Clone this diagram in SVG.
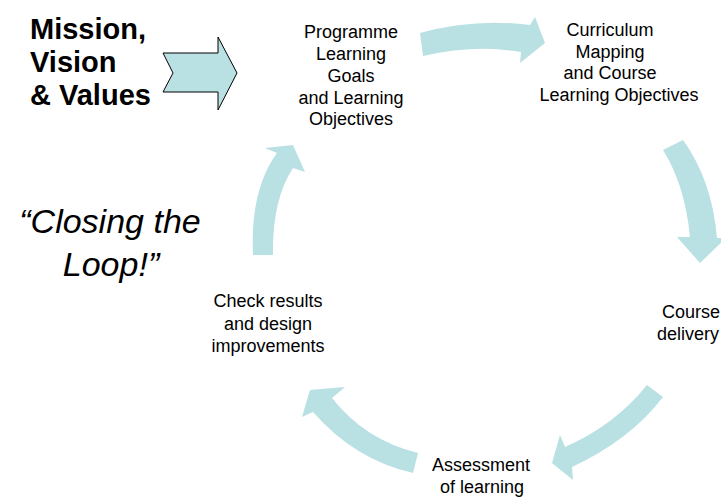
<svg xmlns="http://www.w3.org/2000/svg" width="721" height="497" viewBox="0 0 721 497">
<style>
.lbl{font-family:"Liberation Sans",Arial,sans-serif;font-size:18px;fill:#000;text-anchor:middle}
.arr{fill:#B9E0E3;stroke:none}
</style>
<rect width="721" height="497" fill="#fff"/>
<g id="mission">
<text font-family="Liberation Sans,Arial,sans-serif" font-weight="bold" font-size="29" x="30" y="39">Mission,</text>
<text font-family="Liberation Sans,Arial,sans-serif" font-weight="bold" font-size="29" x="30" y="72">Vision</text>
<text font-family="Liberation Sans,Arial,sans-serif" font-weight="bold" font-size="29" x="30" y="105">&amp; Values</text>
<path d="M163,53 L218,53 L218,37 L237,73 L218,110 L218,92 L163,92 L173,73 Z" fill="#B9E0E3" stroke="#000" stroke-width="1"/>
</g>
<g id="closing">
<text font-family="Liberation Sans,Arial,sans-serif" font-style="italic" font-size="34" text-anchor="middle" x="110" y="233">“Closing the</text>
<text font-family="Liberation Sans,Arial,sans-serif" font-style="italic" font-size="34" text-anchor="middle" x="111" y="276">Loop!”</text>
</g>
<g id="connectors">
<path class="arr" d="M420,33 Q475,18 530,25 L535,17 L545,43 L520,63 L521,52 Q475,44 423,56 Z"/>
<path class="arr" d="M663,150 Q685,185 690,237 L677,237 L700,263 L726,238 L717,238 Q712,180 683,140 Z"/>
<path class="arr" d="M647,385 Q615,425 565,447 L560,435 L552,463 L573,480 L572,467 Q630,440 663,397 Z"/>
<path class="arr" d="M418,453 Q365,440 332,398 L345,387 L310,390 L302,417 L313,412 Q355,460 413,473 Z"/>
<path class="arr" d="M253,255 Q250,190 277,153 L265,148 L293,145 L305,172 L293,168 Q272,200 273,255 Z"/>
</g>
<g id="programme">
<text class="lbl" x="351" y="38">Programme</text>
<text class="lbl" x="351" y="60">Learning</text>
<text class="lbl" x="351" y="82">Goals</text>
<text class="lbl" x="351" y="103.5">and Learning</text>
<text class="lbl" x="351" y="125">Objectives</text>
</g>
<g id="curriculum">
<text class="lbl" x="610" y="36">Curriculum</text>
<text class="lbl" x="610" y="57.5">Mapping</text>
<text class="lbl" x="610" y="79">and Course</text>
<text class="lbl" x="619" y="100.5">Learning Objectives</text>
</g>
<g id="delivery">
<text class="lbl" x="662" y="318" text-anchor="start" style="text-anchor:start">Course</text>
<text class="lbl" x="657" y="340" style="text-anchor:start">delivery</text>
</g>
<g id="assessment">
<text class="lbl" x="481" y="471">Assessment</text>
<text class="lbl" x="482" y="493">of learning</text>
</g>
<g id="check">
<text class="lbl" x="268" y="307">Check results</text>
<text class="lbl" x="268" y="329.5">and design</text>
<text class="lbl" x="268" y="352">improvements</text>
</g>
</svg>
